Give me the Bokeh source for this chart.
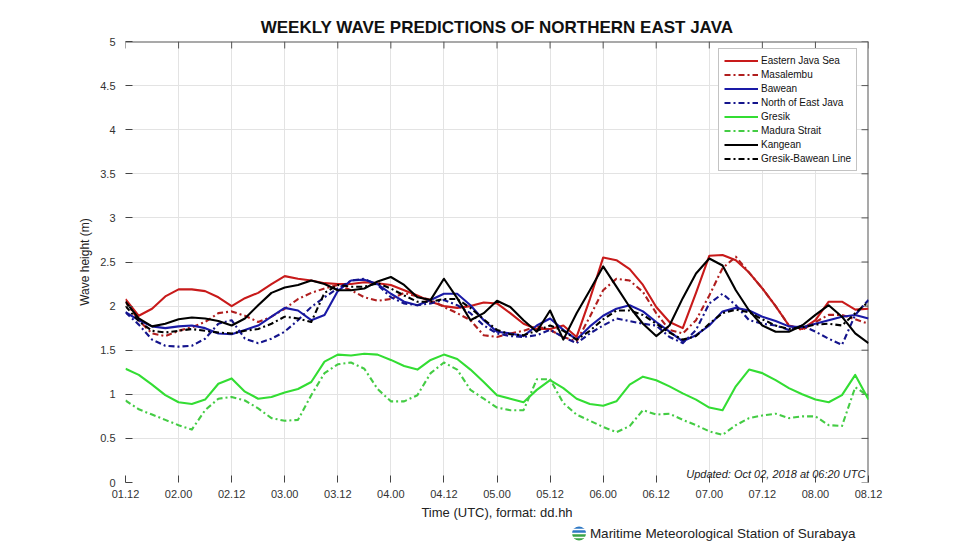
import math
from bokeh.plotting import figure
from bokeh.layouts import column
from bokeh.models import (FixedTicker, Label, Legend, LegendItem, Range1d,
                          NumeralTickFormatter, Title)
from bokeh.core.properties import value
from bokeh.embed import file_html
from bokeh.resources import INLINE

# ---------------- data (hours after 01.12 UTC, 3-hourly) ----------------
hours = list(range(0, 169, 3))
tick_hours = list(range(0, 169, 12))
tick_labels = ["01.12", "02.00", "02.12", "03.00", "03.12", "04.00", "04.12",
               "05.00", "05.12", "06.00", "06.12", "07.00", "07.12", "08.00", "08.12"]
y_ticks = [0, 0.5, 1, 1.5, 2, 2.5, 3, 3.5, 4, 4.5, 5]

eastern_java_sea = [2.08, 1.89, 1.97, 2.11, 2.19, 2.19, 2.17, 2.10,
                    2.00, 2.09, 2.15, 2.25, 2.34, 2.31, 2.29, 2.26,
                    2.25, 2.25, 2.27, 2.26, 2.24, 2.18, 2.12, 2.05,
                    2.00, 1.98, 2.00, 2.04, 2.03, 1.92, 1.80, 1.74,
                    1.74, 1.78, 1.65, 2.08, 2.55, 2.52, 2.42, 2.24,
                    1.99, 1.82, 1.75, 2.15, 2.57, 2.58, 2.52, 2.38,
                    2.20, 2.00, 1.78, 1.74, 1.84, 2.05, 2.05, 1.96,
                    1.97]
masalembu = [2.05, 1.84, 1.69, 1.66, 1.72, 1.76, 1.82, 1.92,
             1.94, 1.89, 1.82, 1.88, 1.97, 2.08, 2.15, 2.20,
             2.24, 2.18, 2.10, 2.06, 2.08, 2.15, 2.11, 2.07,
             1.99, 1.92, 1.84, 1.67, 1.65, 1.69, 1.72, 1.77,
             1.73, 1.65, 1.60, 1.88, 2.18, 2.31, 2.29, 2.16,
             1.92, 1.73, 1.69, 1.84, 2.12, 2.43, 2.56, 2.38,
             2.20, 2.00, 1.78, 1.73, 1.82, 1.90, 1.90, 1.85,
             1.80]
bawean = [1.93, 1.84, 1.77, 1.75, 1.77, 1.78, 1.75, 1.69,
          1.68, 1.73, 1.78, 1.88, 1.98, 1.95, 1.84, 1.90,
          2.17, 2.29, 2.30, 2.25, 2.14, 2.05, 2.01, 2.07,
          2.14, 2.14, 2.01, 1.84, 1.71, 1.69, 1.66, 1.78,
          1.86, 1.73, 1.62, 1.77, 1.89, 1.97, 2.01, 1.94,
          1.82, 1.71, 1.60, 1.67, 1.78, 1.94, 1.98, 1.95,
          1.88, 1.83, 1.77, 1.76, 1.80, 1.84, 1.88, 1.90,
          1.86]
north_of_east_java = [1.93, 1.79, 1.62, 1.55, 1.54, 1.55, 1.63, 1.80,
                      1.84, 1.63, 1.58, 1.63, 1.71, 1.84, 1.99, 2.10,
                      2.20, 2.29, 2.31, 2.24, 2.10, 2.03, 2.01, 2.03,
                      2.07, 2.01, 1.92, 1.78, 1.69, 1.66, 1.65, 1.67,
                      1.73, 1.65, 1.58, 1.69, 1.78, 1.86, 1.83, 1.80,
                      1.78, 1.65, 1.58, 1.73, 2.03, 2.14, 2.01, 1.84,
                      1.80, 1.78, 1.73, 1.78, 1.71, 1.63, 1.56, 1.90,
                      2.07]
gresik = [1.29, 1.22, 1.11, 0.99, 0.91, 0.89, 0.94, 1.12,
          1.18, 1.03, 0.95, 0.97, 1.02, 1.06, 1.14, 1.37,
          1.45, 1.44, 1.46, 1.45, 1.39, 1.32, 1.28, 1.39,
          1.45, 1.40, 1.28, 1.14, 0.99, 0.95, 0.91, 1.05,
          1.16, 1.07, 0.95, 0.89, 0.87, 0.92, 1.11, 1.20,
          1.16, 1.09, 1.01, 0.94, 0.85, 0.82, 1.09, 1.28,
          1.24, 1.16, 1.07, 1.00, 0.94, 0.91, 0.99, 1.22,
          0.94]
madura_strait = [0.93, 0.83, 0.77, 0.71, 0.65, 0.60, 0.82, 0.95,
                 0.97, 0.93, 0.84, 0.73, 0.70, 0.71, 0.99, 1.24,
                 1.34, 1.36, 1.29, 1.06, 0.92, 0.92, 0.99, 1.24,
                 1.36, 1.28, 1.05, 0.95, 0.85, 0.82, 0.82, 1.17,
                 1.17, 0.90, 0.77, 0.70, 0.63, 0.57, 0.64, 0.82,
                 0.77, 0.78, 0.71, 0.65, 0.58, 0.54, 0.65, 0.73,
                 0.76, 0.78, 0.73, 0.75, 0.75, 0.65, 0.64, 1.08,
                 0.98]
kangean = [2.05, 1.86, 1.77, 1.80, 1.85, 1.87, 1.86, 1.83,
           1.78, 1.86, 2.01, 2.15, 2.21, 2.24, 2.29, 2.25,
           2.18, 2.18, 2.20, 2.28, 2.33, 2.24, 2.10, 2.07,
           2.31, 2.09, 1.84, 1.92, 2.06, 1.99, 1.84, 1.71,
           1.95, 1.62, 1.92, 2.18, 2.45, 2.22, 1.99, 1.80,
           1.66, 1.78, 2.09, 2.37, 2.54, 2.46, 2.18, 1.95,
           1.78, 1.71, 1.71, 1.78, 1.90, 2.01, 1.88, 1.69,
           1.58]
gresik_bawean_line = [2.00, 1.83, 1.72, 1.70, 1.72, 1.74, 1.72, 1.70,
                      1.69, 1.72, 1.74, 1.80, 1.88, 1.86, 1.82, 2.15,
                      2.24, 2.22, 2.22, 2.26, 2.20, 2.12, 2.05, 2.05,
                      2.08, 2.08, 1.98, 1.85, 1.73, 1.68, 1.67, 1.72,
                      1.78, 1.72, 1.62, 1.72, 1.85, 1.95, 1.95, 1.90,
                      1.80, 1.70, 1.62, 1.66, 1.80, 1.92, 1.96, 1.93,
                      1.85, 1.78, 1.74, 1.76, 1.79, 1.80, 1.78, 1.92,
                      2.05]

series_names = ["Eastern Java Sea", "Masalembu", "Bawean", "North of East Java",
                "Gresik", "Madura Strait", "Kangean", "Gresik-Bawean Line"]
series_values = [eastern_java_sea, masalembu, bawean, north_of_east_java,
                 gresik, madura_strait, kangean, gresik_bawean_line]

# ---------------- styles ----------------
colors = ["#c81a1a", "#b01e1e", "#1a1aa6", "#14148c",
          "#33dd33", "#44cc44", "#000000", "#000000"]
dashes = ["solid", "6 3 2 3", "solid", "6 3 2 3",
          "solid", "6 3 2 3", "solid", "6 3 2 3"]
FONT = "Liberation Sans"
X_MIN, X_MAX = tick_hours[0], tick_hours[-1]
Y_MIN, Y_MAX = y_ticks[0], y_ticks[-1]

p = figure(width=960, height=522, output_backend="svg", toolbar_location=None,
           x_range=Range1d(X_MIN, X_MAX), y_range=Range1d(Y_MIN, Y_MAX),
           min_border_left=125, min_border_right=92, min_border_top=41,
           min_border_bottom=39)
p.background_fill_color = "white"
p.border_fill_color = "white"
p.outline_line_color = None

p.title = Title(text="WEEKLY WAVE PREDICTIONS OF NORTHERN EAST JAVA",
                align="center", text_font=FONT, text_font_size="17px",
                text_font_style="bold", text_color="#111111", standoff=9,
                offset=-6)

# axes (left / bottom, without axis lines, ticks pointing inward)
p.xaxis.ticker = FixedTicker(ticks=tick_hours)
p.xaxis.major_label_overrides = {h: lab for h, lab in zip(tick_hours, tick_labels)}
p.yaxis.ticker = FixedTicker(ticks=y_ticks)
p.yaxis.formatter = NumeralTickFormatter(format="0.[0]")
for ax in (p.xaxis[0], p.yaxis[0]):
    ax.axis_line_color = None
    ax.major_tick_in = 7
    ax.major_tick_out = 0
    ax.major_tick_line_color = "#444444"
    ax.minor_tick_line_color = None
    ax.major_label_text_font = FONT
    ax.major_label_text_font_size = "11px"
    ax.major_label_text_color = "#333333"
    ax.axis_label_text_font = FONT
    ax.axis_label_text_font_style = "normal"
    ax.axis_label_text_color = "#222222"
p.xaxis.major_label_standoff = 7
p.xaxis.axis_label = "Time (UTC), format: dd.hh"
p.xaxis.axis_label_text_font_size = "13px"
p.xaxis.axis_label_standoff = 4
p.yaxis.major_label_standoff = 10
p.yaxis.axis_label = "Wave height (m)"
p.yaxis.axis_label_text_font_size = "12px"
p.yaxis.axis_label_standoff = 5

p.xgrid.ticker = FixedTicker(ticks=tick_hours)
p.ygrid.ticker = FixedTicker(ticks=y_ticks)
p.grid.grid_line_color = "#e3e3e3"
p.grid.grid_line_width = 1

# top / right box edges with inward ticks
edge_col = "#555555"
tick_len_y = 7 / 88.5
tick_len_x = 7 / (743 / (X_MAX - X_MIN))
p.segment(x0=tick_hours, y0=[Y_MAX] * len(tick_hours), x1=tick_hours,
          y1=[Y_MAX - tick_len_y] * len(tick_hours), line_color=edge_col, line_width=1)
p.segment(x0=[X_MAX] * len(y_ticks), y0=y_ticks, x1=[X_MAX - tick_len_x] * len(y_ticks),
          y1=y_ticks, line_color=edge_col, line_width=1)
p.segment(x0=[X_MIN], y0=[Y_MAX], x1=[X_MAX], y1=[Y_MAX], line_color=edge_col, line_width=2)
p.segment(x0=[X_MAX], y0=[Y_MIN], x1=[X_MAX], y1=[Y_MAX], line_color=edge_col, line_width=2)

# lines
items = []
for name, vals, c, d in zip(series_names, series_values, colors, dashes):
    r = p.line(hours, vals, line_color=c, line_width=2.1, line_dash=d,
               line_join="round")
    items.append(LegendItem(label=name, renderers=[r]))

legend = Legend(items=items, location=(593, 311), orientation="vertical",
                label_text_font=FONT, label_text_font_size="10px",
                label_text_color="#111111", label_height=13, glyph_height=13,
                glyph_width=34, label_standoff=3, spacing=1, padding=5,
                border_line_color="#888888", border_line_width=1,
                background_fill_color="white", background_fill_alpha=1.0,
                margin=0)
p.add_layout(legend, "center")

p.add_layout(Label(x=167.3, y=0.10, text="Updated: Oct 02, 2018 at 06:20 UTC",
                   text_font=FONT, text_font_style="italic", text_font_size="11px",
                   text_align="right", text_baseline="middle", text_color="#222222"))

# ---------------- footer with station name and logo ----------------
foot = figure(width=960, height=21, output_backend="svg", toolbar_location=None,
              x_range=Range1d(0, 960), y_range=Range1d(0, 21),
              min_border=0, outline_line_color=None)
foot.axis.visible = False
foot.grid.visible = False
foot.background_fill_color = "white"
foot.border_fill_color = "white"
# logo: blue upper half, green lower half with white stripes
foot.wedge(x=[586], y=[10], radius=9, start_angle=0, end_angle=math.pi,
           fill_color="#2f78c4", line_color=None)
foot.wedge(x=[586], y=[10], radius=9, start_angle=math.pi, end_angle=2 * math.pi,
           fill_color="#3ba447", line_color=None)
foot.segment(x0=[576, 576, 576], y0=[10, 6, 14], x1=[596, 596, 596], y1=[10, 6, 14],
             line_color="white", line_width=1.5)
foot.text(x=[600], y=[10], text=["Maritime Meteorological Station of Surabaya"],
          text_font=value(FONT), text_font_size="13.5px", text_color="#222222",
          text_align="left", text_baseline="middle")

layout = column(p, foot, spacing=0)
open("out.html", "w").write(file_html(layout, INLINE))
